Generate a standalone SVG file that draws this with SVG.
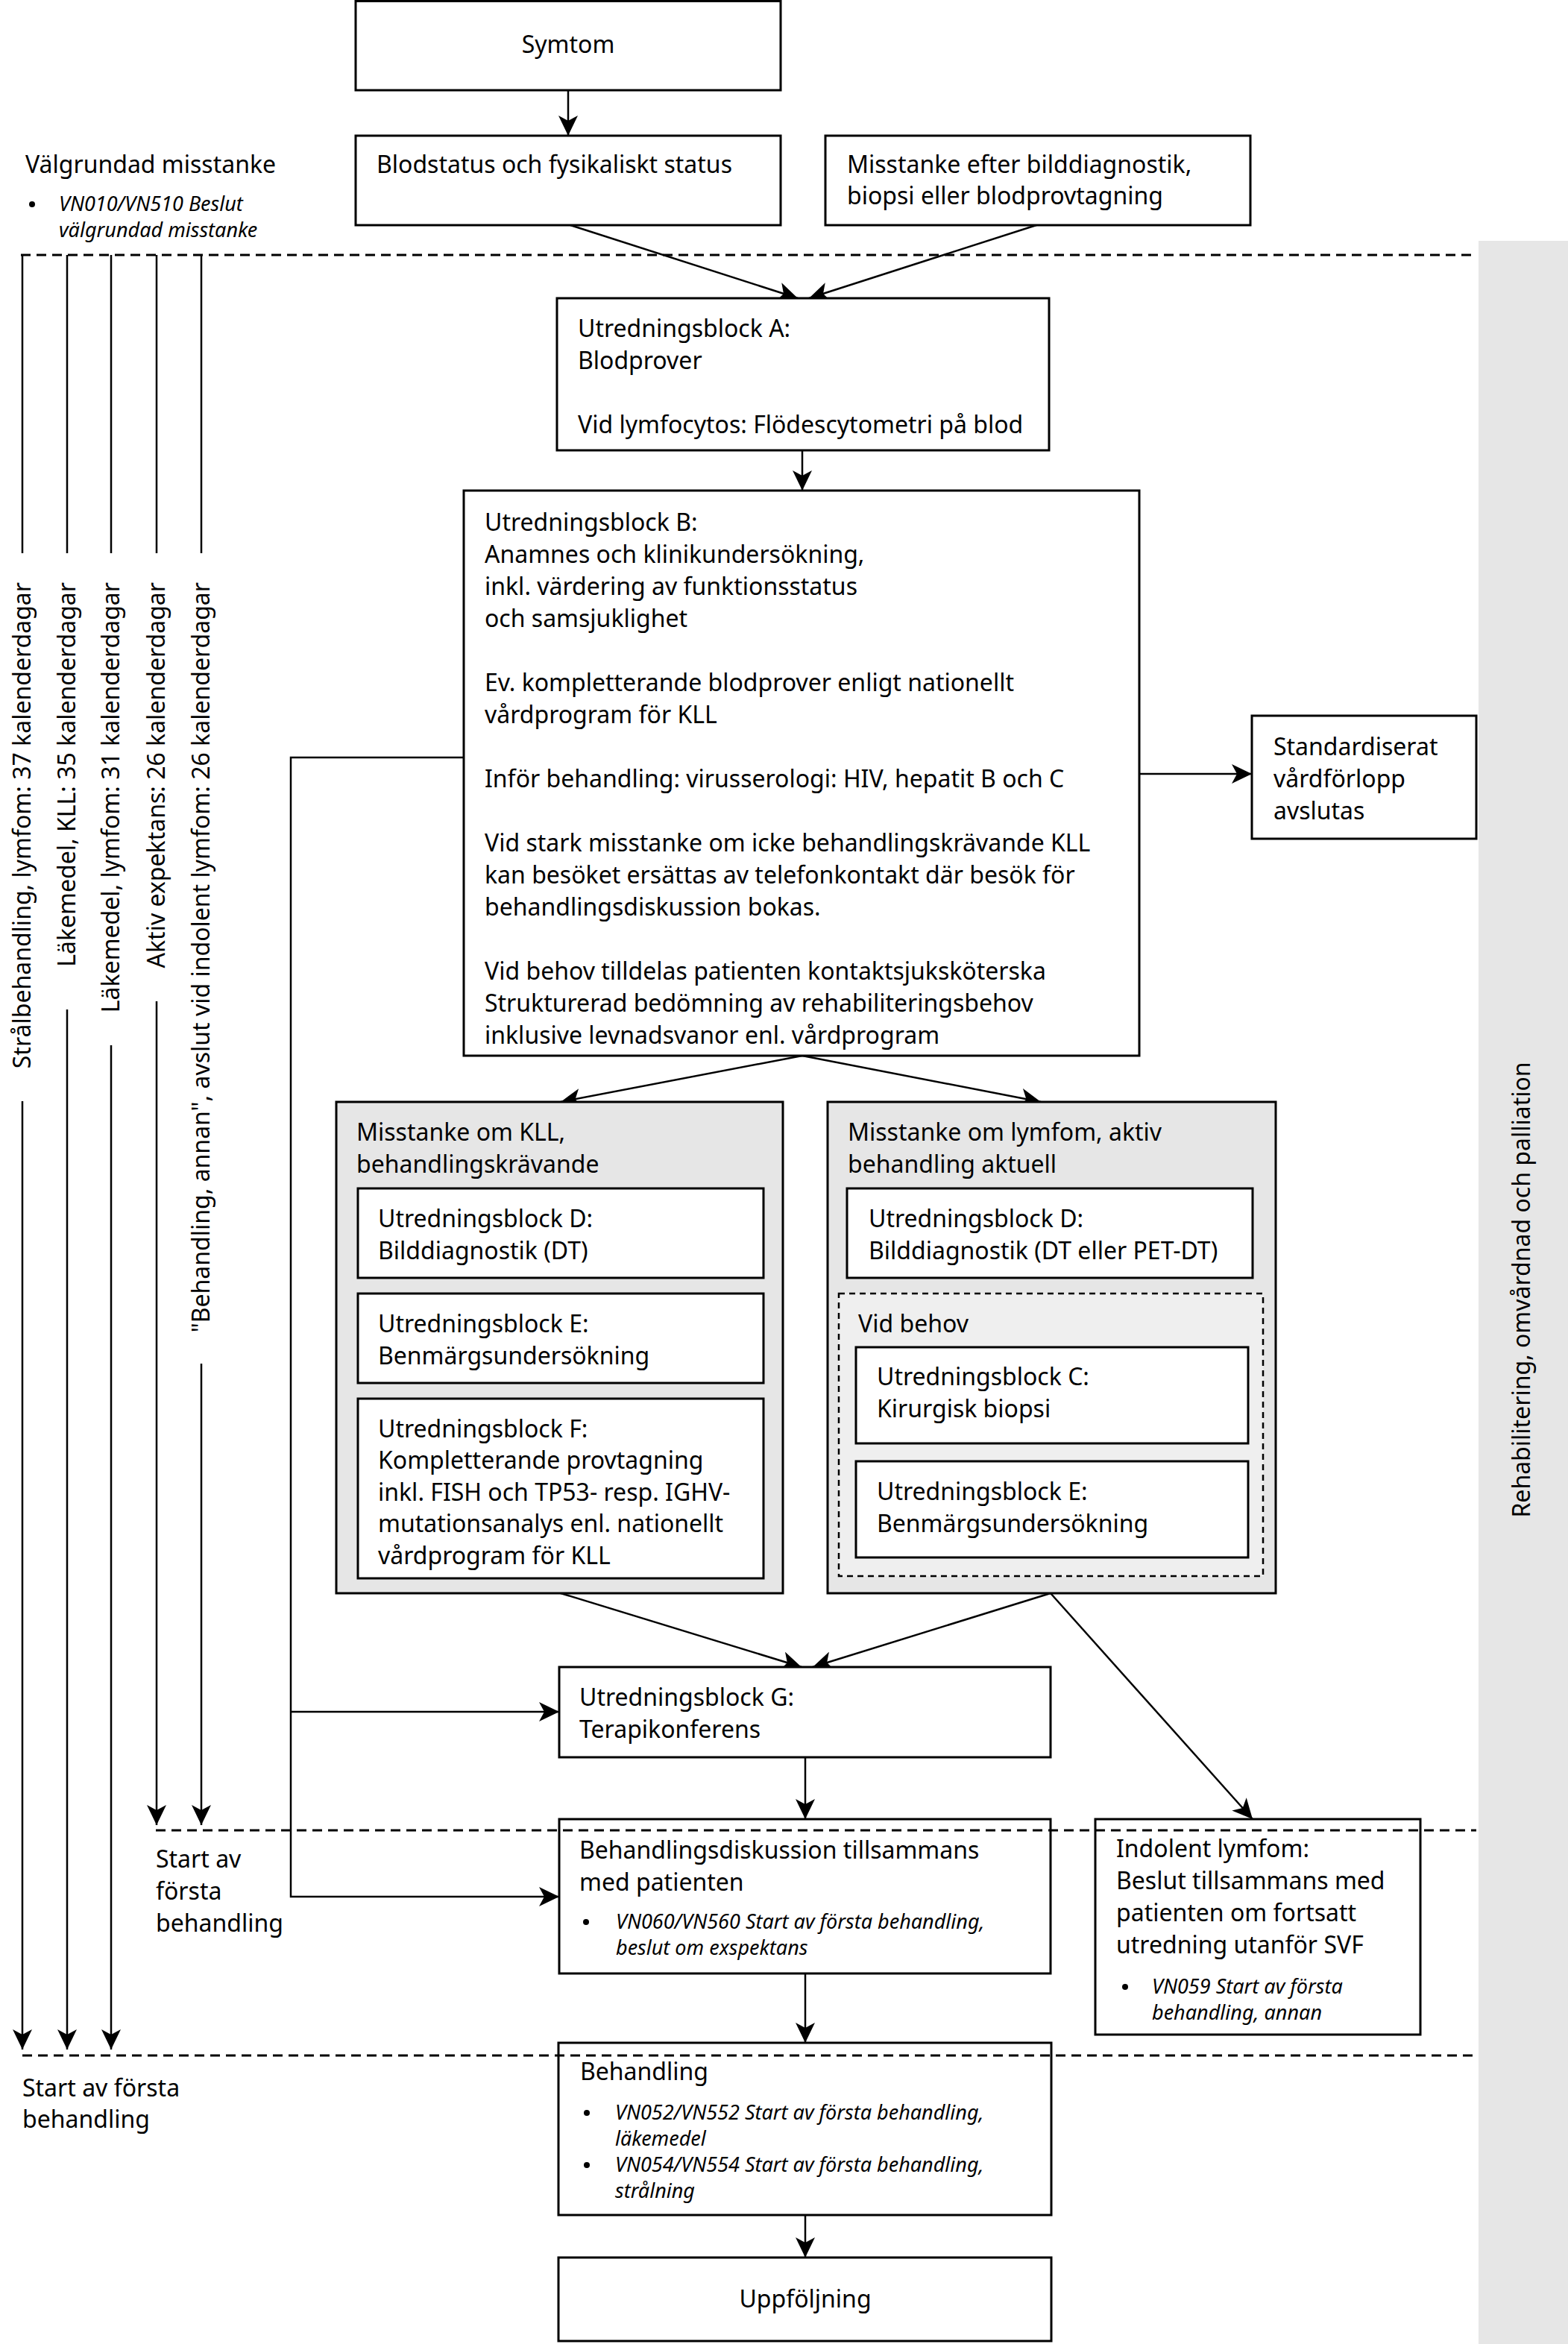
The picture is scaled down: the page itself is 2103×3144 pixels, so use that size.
<svg xmlns="http://www.w3.org/2000/svg" width="2103" height="3144" viewBox="0 0 2103 3144">
<defs>
<style>
.t{font-family:"Noto Sans","Liberation Sans",sans-serif;font-size:32px;fill:#000}
.m{text-anchor:middle}
.i{font-family:"Noto Sans","Liberation Sans",sans-serif;font-size:27px;font-style:italic;fill:#000}
.box{fill:#fff;stroke:#000;stroke-width:3}
.gbox{fill:#e6e6e6;stroke:#000;stroke-width:3}
.vb{fill:#efefef;stroke:#000;stroke-width:2.5;stroke-dasharray:8 6}
.c{fill:none;stroke:#000;stroke-width:2.5}
.dash{fill:none;stroke:#000;stroke-width:3;stroke-dasharray:13 8}
</style>
<marker id="a" markerUnits="userSpaceOnUse" markerWidth="28" markerHeight="26" viewBox="0 0 28 26" refX="27" refY="13" orient="auto"><path d="M0,0 L27,13 L0,26 L7,13 Z" fill="#000"/></marker>
</defs>
<rect x="0" y="0" width="2103" height="3144" fill="#fff"/>
<g id="band">
<rect x="1983" y="323" width="120" height="2821" fill="#e6e6e6"/>
<text class="t m" transform="translate(2052,1730) rotate(-90)">Rehabilitering, omvårdnad och palliation</text>
</g>
<g id="connectors">
<line class="c" x1="762" y1="121" x2="762" y2="182" marker-end="url(#a)"/>
<line class="c" x1="765" y1="302" x2="1070" y2="400" marker-end="url(#a)"/>
<line class="c" x1="1390" y1="302" x2="1085" y2="400" marker-end="url(#a)"/>
<line class="c" x1="1076" y1="604" x2="1076" y2="658" marker-end="url(#a)"/>
<line class="c" x1="1076" y1="1416" x2="752" y2="1478" marker-end="url(#a)"/>
<line class="c" x1="1076" y1="1416" x2="1396" y2="1478" marker-end="url(#a)"/>
<line class="c" x1="1528" y1="1038" x2="1679" y2="1038" marker-end="url(#a)"/>
<polyline class="c" points="622,1016 390,1016 390,2544 750,2544" marker-end="url(#a)"/>
<line class="c" x1="390" y1="2296" x2="750" y2="2296" marker-end="url(#a)"/>
<line class="c" x1="752" y1="2137" x2="1075" y2="2236" marker-end="url(#a)"/>
<line class="c" x1="1409" y1="2137" x2="1090" y2="2236" marker-end="url(#a)"/>
<line class="c" x1="1409" y1="2137" x2="1680" y2="2440" marker-end="url(#a)"/>
<line class="c" x1="1080" y1="2357" x2="1080" y2="2440" marker-end="url(#a)"/>
<line class="c" x1="1080" y1="2647" x2="1080" y2="2740" marker-end="url(#a)"/>
<line class="c" x1="1080" y1="2971" x2="1080" y2="3028" marker-end="url(#a)"/>
<line class="c" x1="30" y1="342" x2="30" y2="742"/>
<line class="c" x1="90" y1="342" x2="90" y2="742"/>
<line class="c" x1="149" y1="342" x2="149" y2="742"/>
<line class="c" x1="210" y1="342" x2="210" y2="742"/>
<line class="c" x1="270" y1="342" x2="270" y2="742"/>
<line class="c" x1="30" y1="1477" x2="30" y2="2749" marker-end="url(#a)"/>
<line class="c" x1="90" y1="1354" x2="90" y2="2749" marker-end="url(#a)"/>
<line class="c" x1="149" y1="1402" x2="149" y2="2749" marker-end="url(#a)"/>
<line class="c" x1="210" y1="1343" x2="210" y2="2448" marker-end="url(#a)"/>
<line class="c" x1="270" y1="1829" x2="270" y2="2448" marker-end="url(#a)"/>
</g>
<g id="timelabels">
<text class="t" text-anchor="end" transform="translate(41,781) rotate(-90)">Strålbehandling, lymfom: 37 kalenderdagar</text>
<text class="t" text-anchor="end" transform="translate(101,781) rotate(-90)">Läkemedel, KLL: 35 kalenderdagar</text>
<text class="t" text-anchor="end" transform="translate(160,781) rotate(-90)">Läkemedel, lymfom: 31 kalenderdagar</text>
<text class="t" text-anchor="end" transform="translate(221,781) rotate(-90)">Aktiv expektans: 26 kalenderdagar</text>
<text class="t" text-anchor="end" transform="translate(281,781) rotate(-90)">"Behandling, annan", avslut vid indolent lymfom: 26 kalenderdagar</text>
</g>
<g id="valgrundad">
<text class="t" x="34" y="232">Välgrundad misstanke</text>
<circle cx="43" cy="274" r="4"/>
<text class="i" x="79" y="283">VN010/VN510 Beslut</text>
<text class="i" x="79" y="318">välgrundad misstanke</text>
</g>
<g id="start1">
<text class="t" x="209" y="2505">Start av</text>
<text class="t" x="209" y="2548">första</text>
<text class="t" x="209" y="2591">behandling</text>
</g>
<g id="start2">
<text class="t" x="30" y="2812">Start av första</text>
<text class="t" x="30" y="2854">behandling</text>
</g>
<g id="symtom">
<rect class="box" x="477" y="1.5" width="570" height="119.5"/>
<text class="t m" x="762" y="71">Symtom</text>
</g>
<g id="blodstatus">
<rect class="box" x="477" y="182" width="570" height="120"/>
<text class="t" x="505" y="232">Blodstatus och fysikaliskt status</text>
</g>
<g id="misstanke-bild">
<rect class="box" x="1107" y="182" width="570" height="120"/>
<text class="t" x="1136" y="232">Misstanke efter bilddiagnostik,</text>
<text class="t" x="1136" y="274">biopsi eller blodprovtagning</text>
</g>
<g id="blockA">
<rect class="box" x="747" y="400" width="660" height="204"/>
<text class="t" x="775" y="452">Utredningsblock A:</text>
<text class="t" x="775" y="495">Blodprover</text>
<text class="t" x="775" y="581">Vid lymfocytos: Flödescytometri på blod</text>
</g>
<g id="blockB">
<rect class="box" x="622" y="658" width="906" height="758"/>
<text class="t" x="650" y="712">Utredningsblock B:</text>
<text class="t" x="650" y="755">Anamnes och klinikundersökning,</text>
<text class="t" x="650" y="798">inkl. värdering av funktionsstatus</text>
<text class="t" x="650" y="841">och samsjuklighet</text>
<text class="t" x="650" y="927">Ev. kompletterande blodprover enligt nationellt</text>
<text class="t" x="650" y="970">vårdprogram för KLL</text>
<text class="t" x="650" y="1056">Inför behandling: virusserologi: HIV, hepatit B och C</text>
<text class="t" x="650" y="1142">Vid stark misstanke om icke behandlingskrävande KLL</text>
<text class="t" x="650" y="1185">kan besöket ersättas av telefonkontakt där besök för</text>
<text class="t" x="650" y="1228">behandlingsdiskussion bokas.</text>
<text class="t" x="650" y="1314">Vid behov tilldelas patienten kontaktsjuksköterska</text>
<text class="t" x="650" y="1357">Strukturerad bedömning av rehabiliteringsbehov</text>
<text class="t" x="650" y="1400">inklusive levnadsvanor enl. vårdprogram</text>
</g>
<g id="standardiserat">
<rect class="box" x="1679" y="960" width="301" height="165"/>
<text class="t" x="1708" y="1013">Standardiserat</text>
<text class="t" x="1708" y="1056">vårdförlopp</text>
<text class="t" x="1708" y="1099">avslutas</text>
</g>
<g id="kll">
<rect class="gbox" x="451" y="1478" width="599" height="659"/>
<text class="t" x="478" y="1530">Misstanke om KLL,</text>
<text class="t" x="478" y="1573">behandlingskrävande</text>
</g>
<g id="kll-d">
<rect class="box" x="480" y="1594" width="544" height="120"/>
<text class="t" x="507" y="1646">Utredningsblock D:</text>
<text class="t" x="507" y="1689">Bilddiagnostik (DT)</text>
</g>
<g id="kll-e">
<rect class="box" x="480" y="1735" width="544" height="120"/>
<text class="t" x="507" y="1787">Utredningsblock E:</text>
<text class="t" x="507" y="1830">Benmärgsundersökning</text>
</g>
<g id="kll-f">
<rect class="box" x="480" y="1876" width="544" height="241"/>
<text class="t" x="507" y="1928">Utredningsblock F:</text>
<text class="t" x="507" y="1970">Kompletterande provtagning</text>
<text class="t" x="507" y="2013">inkl. FISH och TP53- resp. IGHV-</text>
<text class="t" x="507" y="2055">mutationsanalys enl. nationellt</text>
<text class="t" x="507" y="2098">vårdprogram för KLL</text>
</g>
<g id="lymfom">
<rect class="gbox" x="1110" y="1478" width="601" height="659"/>
<text class="t" x="1137" y="1530">Misstanke om lymfom, aktiv</text>
<text class="t" x="1137" y="1573">behandling aktuell</text>
</g>
<g id="lymfom-d">
<rect class="box" x="1136" y="1594" width="544" height="120"/>
<text class="t" x="1165" y="1646">Utredningsblock D:</text>
<text class="t" x="1165" y="1689">Bilddiagnostik (DT eller PET-DT)</text>
</g>
<g id="vid-behov">
<rect class="vb" x="1125" y="1735" width="569" height="379"/>
<text class="t" x="1151" y="1787">Vid behov</text>
</g>
<g id="lymfom-c">
<rect class="box" x="1148" y="1807" width="526" height="129"/>
<text class="t" x="1176" y="1858">Utredningsblock C:</text>
<text class="t" x="1176" y="1901">Kirurgisk biopsi</text>
</g>
<g id="lymfom-e">
<rect class="box" x="1148" y="1960" width="526" height="129"/>
<text class="t" x="1176" y="2012">Utredningsblock E:</text>
<text class="t" x="1176" y="2055">Benmärgsundersökning</text>
</g>
<g id="blockG">
<rect class="box" x="750" y="2236" width="659" height="121"/>
<text class="t" x="777" y="2288">Utredningsblock G:</text>
<text class="t" x="777" y="2331">Terapikonferens</text>
</g>
<g id="diskussion">
<rect class="box" x="750" y="2440" width="659" height="207"/>
<text class="t" x="777" y="2493">Behandlingsdiskussion tillsammans</text>
<text class="t" x="777" y="2536">med patienten</text>
<circle cx="786" cy="2578" r="4"/>
<text class="i" x="826" y="2587">VN060/VN560 Start av första behandling,</text>
<text class="i" x="826" y="2622">beslut om exspektans</text>
</g>
<g id="indolent">
<rect class="box" x="1469" y="2440" width="436" height="289"/>
<text class="t" x="1497" y="2491">Indolent lymfom:</text>
<text class="t" x="1497" y="2534">Beslut tillsammans med</text>
<text class="t" x="1497" y="2577">patienten om fortsatt</text>
<text class="t" x="1497" y="2620">utredning utanför SVF</text>
<circle cx="1509" cy="2665" r="4"/>
<text class="i" x="1545" y="2674">VN059 Start av första</text>
<text class="i" x="1545" y="2709">behandling, annan</text>
</g>
<g id="behandling">
<rect class="box" x="749" y="2740" width="661" height="231"/>
<text class="t" x="778" y="2790">Behandling</text>
<circle cx="787" cy="2834" r="4"/>
<text class="i" x="825" y="2843">VN052/VN552 Start av första behandling,</text>
<text class="i" x="825" y="2878">läkemedel</text>
<circle cx="787" cy="2904" r="4"/>
<text class="i" x="825" y="2913">VN054/VN554 Start av första behandling,</text>
<text class="i" x="825" y="2948">strålning</text>
</g>
<g id="uppfoljning">
<rect class="box" x="749" y="3028" width="661" height="112"/>
<text class="t m" x="1080" y="3095">Uppföljning</text>
</g>
<g id="dashlines">
<line class="dash" x1="28" y1="342" x2="1980" y2="342"/>
<line class="dash" x1="209" y1="2455" x2="1980" y2="2455"/>
<line class="dash" x1="30" y1="2757" x2="1980" y2="2757"/>
</g>
</svg>
